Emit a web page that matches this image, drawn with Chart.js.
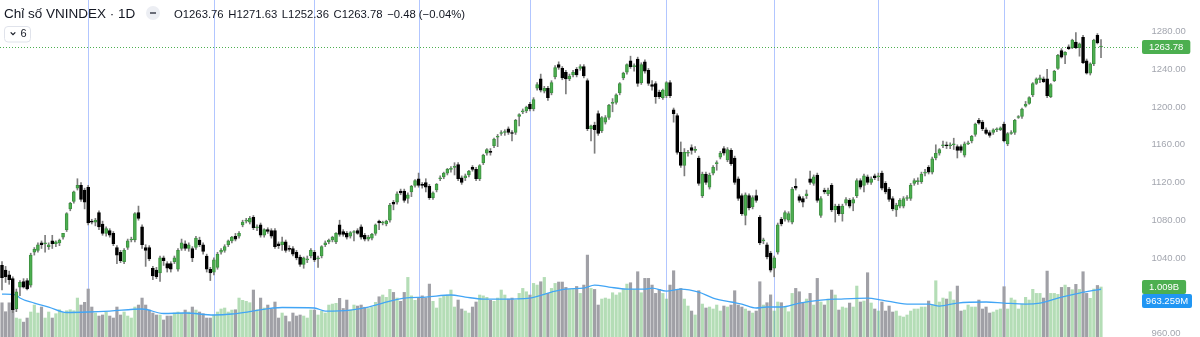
<!DOCTYPE html>
<html><head><meta charset="utf-8">
<script src="https://cdn.jsdelivr.net/npm/chart.js@4.4.1/dist/chart.umd.min.js"></script>
<style>
html,body{margin:0;padding:0;background:#fff;}
#wrap{position:relative;width:1200px;height:337px;overflow:hidden;font-family:'Liberation Sans',Arial,sans-serif;}
canvas{position:absolute;left:0;top:0;}
.hdr{position:absolute;white-space:nowrap;color:#131722;}
#title{left:4px;top:5.5px;font-size:13.5px;line-height:16px;}
#ohlc{left:174px;top:7.4px;font-size:11.3px;line-height:14px;}
#ohlc span{margin-right:4.6px;}
#dot{position:absolute;left:146px;top:6px;width:14px;height:14px;border-radius:50%;background:#eceef3;}
#dot i{position:absolute;left:4px;top:6.2px;width:6px;height:1.6px;background:#6a6d78;}
#btn{position:absolute;left:4px;top:26px;}
</style></head>
<body>
<div id="wrap">
<canvas id="c" width="1200" height="337"></canvas>
<div class="hdr" id="title">Chỉ số VNINDEX · 1D</div>
<div id="dot"><i></i></div>
<div class="hdr" id="ohlc"><span>O1263.76</span><span>H1271.63</span><span>L1252.36</span><span>C1263.78</span><span>−0.48 (−0.04%)</span></div>
<svg id="btn" width="28" height="17"><rect x="0.5" y="0.5" width="26" height="15.5" rx="3.5" fill="#fff" stroke="#e0e3eb"/><polyline points="6.7,6.3 9,8.6 11.3,6.3" fill="none" stroke="#131722" stroke-width="1.2"/><text x="16.5" y="11.4" font-size="11" fill="#131722" font-family="Liberation Sans, Arial, sans-serif">6</text></svg>
</div>
<script>
// ---- data (daily candles, oldest -> newest) ----
const opens = [1032,1027,1022,1018,986,1009,1015,1016,1011,1046,
1048,1056,1055,1052,1058,1055,1056,1062,
1070,1092,1100,1114,1117,1112,1115,1079,1078,1088,
1076,1066,1069,1066,1051,1046,1036,1051,1059,1059,
1088,1073,1051,1051,1029,1027,1024,1040,1034,1034,
1036,1028,1050,1055,1050,1050,1051,1059,1054,1042,
1028,1025,1030,1046,1048,1054,1058,1063,1063,1075,
1079,1078,1083,1072,1075,1064,1070,1069,1069,1055,
1054,1057,1050,1050,1046,1041,1033,1038,1042,1046,
1039,1042,1054,1057,1059,1057,1075,1068,1066,1063,
1067,1069,1073,1064,1060,1061,1066,1079,1077,1076,
1080,1099,1099,1111,1111,1103,1110,1117,1124,1118,
1120,1116,1104,1112,1124,1126,1130,1134,1136,1139,
1125,1125,1128,1136,1134,1124,1141,1151,1153,1159,
1168,1172,1173,1177,1173,1173,1190,1195,1196,1203,
1198,1220,1230,1217,1220,1215,1232,1245,1241,1237,
1230,1234,1240,1241,1243,1228,1177,1181,1193,1175,
1184,1189,1204,1205,1215,1231,1237,1249,1243,1251,
1226,1248,1239,1224,1225,1216,1210,1212,1226,1197,
1191,1152,1138,1151,1157,1154,1146,1106,1129,1115,
1130,1140,1147,1156,1144,1154,1146,1124,1106,1085,
1106,1094,1106,1083,1058,1054,1045,1029,1046,1081,
1081,1080,1078,1116,1105,1103,1106,1124,1119,1128,
1085,1112,1108,1117,1091,1095,1087,1098,1101,1098,
1106,1122,1117,1126,1120,1127,1126,1130,1119,1113,
1103,1091,1095,1095,1103,1103,1119,1121,1121,1130,
1136,1131,1146,1151,1159,1160,1159,1160,1158,1158,
1149,1161,1164,1171,1186,1184,1176,1173,1173,1176,
1176,1182,1161,1172,1173,1189,1190,1201,1204,1213,
1225,1229,1230,1230,1211,1228,1241,1260,1255,1264,
1263,1269,1263,1274,1249,1236,1246,1276,1263.76];
const highs = [1036,1031,1026,1020,1007,1016,1018,1018,1045,1051,
1056,1058,1064,1056,1064,1058,1060,1066,
1088,1099,1111,1124,1120,1114,1117,1081,1082,1090,
1079,1073,1071,1068,1053,1048,1050,1060,1062,1088,
1095,1075,1054,1053,1031,1030,1042,1042,1036,1036,
1042,1050,1060,1058,1056,1052,1063,1062,1056,1044,
1030,1040,1046,1050,1054,1059,1063,1066,1068,1080,
1082,1084,1085,1075,1077,1071,1072,1071,1071,1057,
1062,1059,1053,1052,1048,1043,1041,1042,1050,1048,
1042,1053,1058,1060,1063,1067,1080,1070,1068,1068,
1069,1071,1075,1066,1064,1066,1076,1080,1079,1080,
1098,1101,1110,1113,1113,1109,1117,1123,1130,1120,
1124,1118,1110,1119,1127,1131,1135,1137,1141,1141,
1127,1129,1133,1138,1136,1139,1150,1156,1156,1167,
1171,1175,1176,1179,1175,1187,1193,1198,1201,1205,
1210,1226,1235,1222,1222,1228,1244,1248,1243,1239,
1235,1239,1242,1245,1245,1230,1181,1184,1196,1190,
1191,1203,1209,1214,1226,1237,1246,1254,1246,1253,
1247,1250,1241,1228,1227,1218,1219,1227,1228,1199,
1193,1163,1156,1154,1160,1158,1148,1131,1131,1130,
1138,1143,1153,1158,1157,1156,1148,1126,1108,1109,
1108,1106,1112,1085,1061,1056,1047,1042,1077,1083,
1090,1089,1115,1124,1107,1105,1112,1132,1128,1130,
1105,1114,1114,1119,1097,1097,1097,1104,1103,1104,
1124,1124,1129,1128,1126,1129,1130,1132,1121,1115,
1105,1098,1103,1105,1106,1119,1124,1125,1131,1134,
1138,1147,1160,1156,1164,1163,1162,1167,1160,1160,
1163,1164,1170,1183,1188,1186,1178,1175,1177,1178,
1179,1184,1173,1175,1187,1191,1199,1206,1211,1226,
1231,1234,1232,1240,1225,1239,1256,1262,1259,1266,
1272,1279,1268,1276,1251,1247,1272,1278,1271.63];
const lows = [1006,1014,1012,982,983,1000,1008,1006,1009,1043,
1046,1050,1046,1049,1050,1052,1053,1060,
1068,1090,1098,1112,1100,1092,1075,1076,1074,1070,
1064,1063,1062,1053,1034,1035,1034,1049,1057,1057,
1080,1050,1031,1037,1017,1018,1015,1032,1025,1025,
1034,1026,1048,1048,1047,1036,1049,1052,1044,1025,
1016,1022,1028,1044,1046,1052,1056,1058,1061,1073,
1077,1076,1070,1069,1062,1062,1066,1061,1050,1050,
1048,1046,1047,1042,1038,1031,1029,1035,1040,1036,
1030,1040,1052,1055,1057,1055,1063,1063,1060,1061,
1058,1065,1060,1058,1058,1059,1064,1070,1075,1074,
1078,1091,1097,1107,1099,1098,1105,1115,1115,1114,
1110,1102,1102,1110,1122,1124,1128,1131,1128,1122,
1118,1122,1126,1132,1122,1122,1139,1149,1149,1157,
1158,1170,1170,1171,1164,1171,1180,1193,1194,1196,
1196,1218,1216,1215,1207,1213,1230,1240,1229,1214,
1228,1232,1232,1239,1231,1175,1164,1151,1170,1173,
1182,1187,1195,1203,1213,1229,1235,1241,1238,1222,
1224,1236,1223,1218,1204,1209,1208,1210,1210,1184,
1150,1136,1127,1148,1150,1152,1117,1104,1118,1113,
1128,1133,1145,1149,1142,1138,1118,1101,1085,1075,
1091,1092,1099,1054,1055,1039,1025,1020,1044,1074,
1079,1078,1076,1112,1099,1094,1103,1118,1117,1099,
1083,1108,1106,1089,1078,1085,1079,1096,1093,1090,
1104,1113,1110,1118,1118,1123,1122,1112,1108,1100,
1090,1084,1093,1093,1101,1101,1117,1118,1119,1127,
1129,1129,1144,1149,1157,1156,1156,1155,1146,1152,
1147,1160,1162,1169,1182,1175,1171,1168,1171,1174,
1175,1163,1159,1171,1171,1188,1188,1200,1203,1211,
1224,1226,1226,1210,1210,1227,1240,1252,1246,1261,
1262,1262,1254,1246,1235,1234,1244,1267,1252.36];
const closes = [1019,1020,1017,985,1004,1014,1009,1007,1043,1049,
1054,1054,1056,1054,1055,1057,1059,1066,
1087,1098,1110,1117,1102,1099,1077,1078,1080,1073,
1066,1071,1064,1055,1043,1037,1048,1058,1060,1087,
1082,1054,1048,1039,1021,1020,1040,1037,1029,1028,
1040,1048,1056,1050,1054,1040,1061,1054,1047,1028,
1024,1038,1044,1048,1052,1058,1062,1060,1066,1078,
1080,1082,1072,1073,1064,1070,1068,1063,1052,1053,
1057,1048,1049,1044,1040,1033,1040,1039,1048,1038,
1040,1052,1056,1059,1062,1066,1065,1065,1062,1067,
1068,1066,1062,1060,1062,1065,1075,1077,1078,1079,
1096,1097,1108,1109,1101,1107,1116,1122,1117,1117,
1115,1104,1109,1118,1125,1130,1134,1135,1137,1124,
1120,1127,1132,1134,1124,1138,1149,1155,1152,1166,
1169,1173,1174,1173,1172,1186,1192,1196,1200,1198,
1208,1224,1218,1220,1210,1226,1242,1242,1231,1230,
1233,1237,1234,1243,1233,1177,1180,1176,1172,1189,
1189,1202,1205,1213,1225,1236,1245,1243,1243,1225,
1245,1238,1225,1222,1211,1211,1218,1226,1212,1193,
1152,1138,1152,1152,1154,1155,1119,1129,1120,1128,
1136,1141,1151,1151,1155,1140,1120,1103,1087,1107,
1093,1104,1101,1056,1059,1041,1027,1040,1075,1076,
1088,1087,1113,1114,1101,1099,1108,1120,1126,1101,
1103,1110,1112,1091,1095,1087,1095,1102,1095,1102,
1122,1115,1127,1120,1124,1125,1126,1114,1110,1102,
1092,1096,1101,1103,1104,1117,1122,1121,1129,1131,
1131,1145,1151,1155,1160,1159,1160,1161,1154,1154,
1161,1162,1169,1182,1183,1177,1172,1170,1176,1177,
1178,1164,1172,1173,1186,1190,1198,1203,1210,1225,
1230,1231,1227,1212,1224,1238,1255,1253,1258,1262,
1271,1263,1267,1247,1236,1246,1271,1268,1263.78];
// volume in millions of shares
const volumes = [690,510,690,560,383,363,300,383,504,645,
484,605,383,504,383,470,550,490,
530,550,530,786,645,700,968,605,484,423,
444,504,423,383,605,444,504,423,383,605,
645,786,645,544,484,444,444,343,423,423,
484,504,484,544,504,605,544,504,470,383,
383,444,504,565,585,504,544,550,786,740,
720,692,948,550,786,585,645,565,706,383,
484,423,309,484,423,444,423,383,545,545,
444,524,484,645,665,680,780,575,746,545,
645,625,645,600,575,605,700,812,847,800,
961,900,786,720,900,1203,830,740,786,830,
786,1068,720,585,786,820,847,948,605,746,
565,524,484,605,706,847,830,800,740,720,
786,948,847,766,786,746,880,981,913,847,
1082,1048,1115,1203,880,981,1082,1109,1109,1001,
960,960,1020,880,1048,1653,981,960,645,766,
786,766,893,847,893,960,1068,1095,960,1317,
893,1183,1183,1048,880,960,880,766,1048,1337,
960,981,766,625,524,444,934,665,585,605,
565,645,524,625,605,645,934,645,605,565,
524,484,524,1115,645,692,850,524,706,692,
611,510,880,981,913,695,766,880,645,1183,
706,645,766,948,847,544,605,585,685,605,
1028,706,726,1297,686,565,524,706,524,625,
504,524,423,403,444,524,565,565,605,605,
726,645,1135,706,786,766,913,746,1028,524,
544,645,605,605,746,565,605,484,504,544,
565,1015,565,786,746,565,665,800,746,962,
880,880,786,1330,880,880,860,1001,1048,1001,
955,1062,960,1317,880,780,968,1040,1009];
// volume moving average, read at selected candles (candle index, millions)
const maIndex = [0,4,5,9,13,18,24,30,39,45,51,59,64,69,78,87,90,97,102,106,112,118,125,129,134,139,147,153,157,162,165,169,174,179,181,185,189,194,198,203,206,210,213,217,222,228,233,241,245,252,258,261,266,274,279,285,289,295,300,306];
const maValue = [867,847,786,685,605,494,504,524,565,474,484,444,464,514,595,585,524,544,605,685,786,806,847,806,766,766,786,907,968,988,1048,1008,968,968,988,927,968,907,786,706,665,585,605,605,685,746,766,786,746,665,665,625,685,706,685,665,685,806,887,963.259];
// candles marked with vertical lines
const vLines = [24,59,87,116,147,185,215,244,279];
// price axis tick labels
const yTicks = [960,1040,1080,1120,1160,1200,1240,1280];

const N = closes.length;
if ([opens,highs,lows,volumes].some(a => a.length !== N)) throw new Error('length mismatch ' + [opens.length,highs.length,lows.length,closes.length,volumes.length]);

const FONT = "'Liberation Sans', Arial, sans-serif";
const UP = '#4caf50', UPB = '#3d9140', DOWN = '#000000', WICK = '#7d7d7d';
const VUP = 'rgba(76,175,80,0.42)', VDOWN = '#a0a0a6';
const up = closes.map((c, i) => c >= opens[i]);
const ids = closes.map((_, i) => i);

const overlay = {
  id: 'overlay',
  beforeDatasetsDraw(chart) {
    const {ctx, chartArea: a, scales: {x, y}} = chart;
    ctx.save();
    ctx.strokeStyle = 'rgba(41,98,255,0.36)';
    ctx.lineWidth = 1;
    vLines.forEach(i => {
      const px = Math.round(x.getPixelForValue(i)) + 0.5;
      ctx.beginPath(); ctx.moveTo(px, 0); ctx.lineTo(px, chart.height); ctx.stroke();
    });
    const py = Math.round(y.getPixelForValue(closes[N - 1])) + 0.5;
    ctx.strokeStyle = '#4caf50';
    ctx.setLineDash([1, 2]);
    ctx.beginPath(); ctx.moveTo(a.left, py); ctx.lineTo(a.right, py); ctx.stroke();
    ctx.restore();
  },
  afterDraw(chart) {
    const {ctx, chartArea: a, scales: {y, yv}} = chart;
    const bx = a.right + 4, h = 14;
    function box(top, text, bg) {
      ctx.font = '9.5px ' + FONT;
      const w = Math.min(ctx.measureText(text).width + 14, 50);
      ctx.fillStyle = bg;
      ctx.beginPath();
      if (ctx.roundRect) ctx.roundRect(bx, top, w, h, 2); else ctx.rect(bx, top, w, h);
      ctx.fill();
      ctx.fillStyle = '#fff'; ctx.textAlign = 'center'; ctx.textBaseline = 'middle';
      ctx.fillText(text, bx + w / 2, top + h / 2 + 0.5);
    }
    const fmtV = v => v >= 1000 ? (v / 1000).toFixed(3) + 'B' : v.toFixed(3) + 'M';
    ctx.save();
    box(y.getPixelForValue(closes[N - 1]) - h / 2, closes[N - 1].toFixed(2), UP);
    const t1 = yv.getPixelForValue(volumes[N - 1]) - h / 2;
    box(t1, fmtV(volumes[N - 1]), up[N - 1] ? UP : '#787b86');
    let t2 = yv.getPixelForValue(maValue[maValue.length - 1]) - h / 2;
    if (t2 < t1 + h) t2 = t1 + h;
    box(t2, fmtV(maValue[maValue.length - 1]), '#2196f3');
    ctx.restore();
  }
};

new Chart(document.getElementById('c'), {
  type: 'bar',
  data: {
    datasets: [
      { label: 'Body', data: ids.map(i => ({x: i, y: [opens[i], closes[i]]})),
        backgroundColor: up.map(u => u ? UP : DOWN), borderColor: up.map(u => u ? UPB : DOWN),
        borderWidth: 1, borderSkipped: false, barThickness: 3, minBarLength: 1, grouped: false, order: 0, yAxisID: 'y' },
      { label: 'Wick', data: ids.map(i => ({x: i, y: [lows[i], highs[i]]})),
        backgroundColor: WICK, barThickness: 1, grouped: false, order: 1, yAxisID: 'y' },
      { type: 'line', label: 'Vol MA', data: maIndex.map((v, k) => ({x: v, y: maValue[k]})),
        borderColor: '#42a5f5', borderWidth: 1.3, pointRadius: 0, cubicInterpolationMode: 'monotone',
        yAxisID: 'yv', order: 2 },
      { label: 'Volume', data: ids.map(i => ({x: i, y: volumes[i]})),
        backgroundColor: up.map(u => u ? VUP : VDOWN), barThickness: 2.5, grouped: false, order: 3, yAxisID: 'yv' }
    ]
  },
  options: {
    responsive: false, animation: false, devicePixelRatio: 1,
    layout: {padding: 0},
    plugins: {legend: {display: false}, tooltip: {enabled: false}},
    scales: {
      x: {type: 'linear', min: -0.5569, max: 316.30, offset: false, display: false},
      y: {
        position: 'right', min: 956.1, max: 1313.6,
        grid: {display: false, drawTicks: false}, border: {display: false},
        afterBuildTicks: s => { s.ticks = yTicks.map(v => ({value: v})); },
        afterFit: s => { s.width = 62; s.paddingTop = 0; s.paddingBottom = 0; },
        ticks: {autoSkip: false, padding: 13.5, color: '#a3a6af', font: {size: 9.5, family: FONT},
          callback: v => Number(v).toFixed(2)}
      },
      yv: {display: false, min: 0, max: 6800}
    }
  },
  plugins: [overlay]
});
</script>
</body></html>
